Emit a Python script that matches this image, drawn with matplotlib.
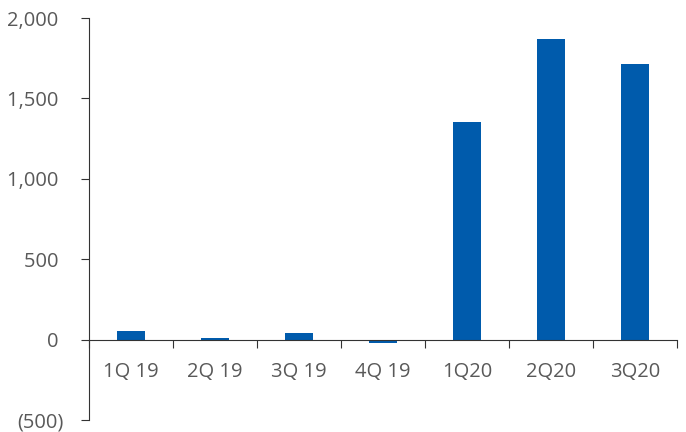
import matplotlib.pyplot as plt
from matplotlib.ticker import FuncFormatter

quarters = ["1Q 19", "2Q 19", "3Q 19", "4Q 19", "1Q20", "2Q20", "3Q20"]
values = [56, 12, 43, -20, 1354, 1870, 1714]

plt.rcParams['font.family'] = ['Open Sans', 'DejaVu Sans']

fig = plt.figure(figsize=(6.86, 4.32), dpi=100)
ax = fig.add_axes([0.1297, 0.0278, 0.8573, 0.9305])

x = range(len(quarters))
ax.bar(x, values, width=0.33, color="#005BAC")

ax.set_xlim(-0.5, len(quarters) - 0.5)
ax.set_ylim(-500, 2000)
ax.set_yticks([-500, 0, 500, 1000, 1500, 2000])

def fmt(v, pos):
    if v < 0:
        return "({:,.0f})".format(-v)
    return "{:,.0f} ".format(v)

ax.yaxis.set_major_formatter(FuncFormatter(fmt))

# category boundaries as major ticks, labels on minor ticks at centers
ax.set_xticks([i - 0.5 for i in range(len(quarters) + 1)])
ax.set_xticklabels([])
ax.set_xticks(list(x), minor=True)
ax.set_xticklabels(quarters, minor=True)

for s in ["top", "right"]:
    ax.spines[s].set_visible(False)
ax.spines["bottom"].set_position(("data", 0))
ax.spines["bottom"].set_color("#333333")
ax.spines["left"].set_color("#333333")

ax.tick_params(axis="x", which="major", direction="out", length=6, color="#333333")
ax.tick_params(axis="x", which="minor", length=0, pad=16, labelsize=14.5, labelcolor="#595959")
ax.tick_params(axis="y", direction="out", length=6, pad=12, labelsize=14.5,
               labelcolor="#595959", color="#333333")

fig.savefig("out.png", dpi=100)
